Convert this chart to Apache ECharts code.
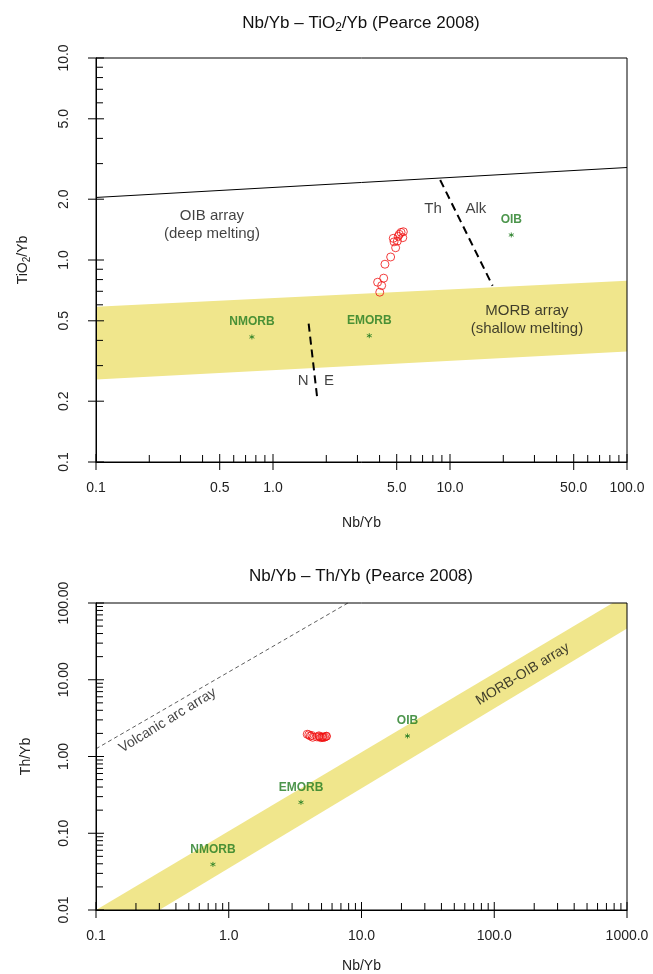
<!DOCTYPE html>
<html><head><meta charset="utf-8">
<script src="https://cdn.jsdelivr.net/npm/echarts@6/dist/echarts.min.js"></script>
<style>html,body{margin:0;padding:0;background:#fff}#c{width:653px;height:974px}</style>
</head><body><div id="c"></div>
<script>
// ---- sample data ----
const sampleNbYb   = [4.01,3.90,4.11,4.22,4.29,4.62,4.93,4.83,5.04,4.78,5.10,5.41,5.29,5.45,5.17];
const sampleTiO2Yb = [0.693,0.776,0.747,0.813,0.953,1.035,1.15,1.23,1.24,1.28,1.31,1.29,1.37,1.38,1.34];
const sampleThYb   = [1.92,1.95,1.85,1.88,1.78,1.80,1.76,1.82,1.78,1.86,1.80,1.83,1.79,1.84,1.77];
// ---- reference compositions ----
const refNames   = ['NMORB','EMORB','OIB'];
const refNbYb    = [0.76,3.50,22.2];
const refTiO2Yb  = [0.416,0.422,1.33];
const refThYb    = [0.0393,0.253,1.85];
// ---- field boundaries ----
const oibUpperLine = [[0.1,2.04],[100,2.87]];
const morbBandTi   = [[0.1,0.587],[100,0.79],[100,0.352],[0.1,0.256]];
const thAlkLine    = [[8.8,2.49],[17.4,0.746]];
const nELine       = [[1.59,0.484],[1.78,0.205]];
const morbOibBand  = [[0.1,0.01],[780,100],[1000,100],[1000,46.4],[0.3,0.01]];
const volcArcLine  = [[0.1,1.26],[7.9,100]];
// ---- annotation texts and anchors ----
const topNotes = ['OIB array\n(deep melting)','MORB array\n(shallow melting)','Th','Alk','N','E'];
const topNoteAt = [[0.452,1.50],[27.2,0.506],[8.02,1.80],[14.0,1.80],[1.48,0.251],[2.07,0.251]];
const botNotes = ['Volcanic arc array','MORB-OIB array'];
const botNoteAt = [[0.346,2.95],[163.7,11.8]];
// ---- ticks ----
const topXMajor = [0.1,0.5,1,5,10,50,100];
const topXMinor = [0.2,0.3,0.4,0.6,0.7,0.8,0.9,2,3,4,6,7,8,9,20,30,40,60,70,80,90];
const topYMajor = [0.1,0.2,0.5,1,2,5,10];
const topYMinor = [0.3,0.4,0.6,0.7,0.8,0.9,3,4,6,7,8,9];
const botXMajor = [0.1,1,10,100,1000];
const botXMinor = [0.2,0.3,0.4,0.5,0.6,0.7,0.8,0.9,2,3,4,5,6,7,8,9,20,30,40,50,60,70,80,90,200,300,400,500,600,700,800,900];
const botYMajor = [0.01,0.1,1,10,100];
const botYMinor = [0.02,0.03,0.04,0.05,0.06,0.07,0.08,0.09,0.2,0.3,0.4,0.5,0.6,0.7,0.8,0.9,2,3,4,5,6,7,8,9,20,30,40,50,60,70,80,90];

const FONT = '"Liberation Sans", Arial, sans-serif';
const YELLOW = '#F0E68C';
const GREEN = '#1f7a1f';
const RED = '#f01010';
const STAR = 'path://M0,-5L0,5M-4.33,-2.5L4.33,2.5M-4.33,2.5L4.33,-2.5';

function tickData(xMaj, xMin, yMaj, yMin, x0, y0){
  const d = [];
  xMaj.forEach(v=>d.push([v,y0,0,1]));
  xMin.forEach(v=>d.push([v,y0,0,0]));
  yMaj.forEach(v=>d.push([x0,v,1,1]));
  yMin.forEach(v=>d.push([x0,v,1,0]));
  return d;
}
function tickRender(params, api){
  const p = api.coord([api.value(0), api.value(1)]);
  const isY = api.value(2) === 1, major = api.value(3) === 1;
  const inL = major ? 8 : 7, outL = major ? 8 : 0;
  const shape = isY ? {x1:p[0]-outL,y1:p[1],x2:p[0]+inL,y2:p[1]}
                    : {x1:p[0],y1:p[1]+outL,x2:p[0],y2:p[1]-inL};
  return {type:'line', shape, style:{stroke:'#000', lineWidth:1}};
}
function bandRender(points){
  return function(params, api){
    if (params.dataIndex !== 0) return;
    return {type:'polygon', shape:{points: points.map(p=>api.coord(p))}, style:{fill: YELLOW}};
  };
}
function zip(a,b){ return a.map((v,i)=>[v,b[i]]); }

function logAxis(gi, min, max, pos, labels, fmt, name, nameGap, rot){
  return {
    type:'log', logBase:10, gridIndex:gi, min, max, position:pos, z:10,
    axisLine:{show:true, onZero:false, lineStyle:{color:'#000', width:1}},
    axisTick:{show:false}, splitLine:{show:false}, minorTick:{show:false},
    axisLabel:{customValues: labels, formatter: v=>Number(v).toFixed(fmt), color:'#222',
      fontFamily:FONT, fontSize:14, rotate: rot||0, margin: rot ? 25 : 19},
    name, nameLocation:'middle', nameGap, nameRotate: rot ? 90 : 0,
    nameTextStyle:{color:'#222', fontFamily:FONT, fontSize:14,
      rich:{sub:{fontSize:10, verticalAlign:'bottom', padding:[8,0,0,0], fontFamily:FONT, color:'#222'}}}
  };
}

const chart = echarts.init(document.getElementById('c'), null, {renderer:'canvas'});
const textLabel = (rot, size)=>({show:true, position:'inside', formatter: p=>p.name, color:'#111',
  fontFamily:FONT, fontSize:size, lineHeight:size+3, align:'center', verticalAlign:'middle', rotate: rot||0});
const refLabel = {show:true, position:'top', distance:4, formatter:p=>p.name, color:GREEN,
  fontFamily:FONT, fontSize:12, fontWeight:'bold'};

chart.setOption({
  animation:false,
  backgroundColor:'#fff',
  title:[
    {text:'Nb/Yb – TiO{sub|2}/Yb (Pearce 2008)', left:356, top:8, textAlign:'center',
     textStyle:{fontFamily:FONT, fontSize:17, fontWeight:'normal', color:'#111',
       rich:{sub:{fontSize:12, verticalAlign:'bottom', padding:[9,0,0,0], fontFamily:FONT, color:'#111'}}}},
    {text:'Nb/Yb – Th/Yb (Pearce 2008)', left:356, top:563, textAlign:'center',
     textStyle:{fontFamily:FONT, fontSize:17, fontWeight:'normal', color:'#111'}}
  ],
  grid:[
    {left:96, top:58, width:531, height:404, show:true, borderColor:'#000', borderWidth:1, backgroundColor:'transparent', z:10},
    {left:96, top:603, width:531, height:309, show:true, borderColor:'#000', borderWidth:1, backgroundColor:'transparent', z:10}
  ],
  xAxis:[
    logAxis(0, 0.1, 100, 'bottom', topXMajor, 1, 'Nb/Yb', 54),
    logAxis(1, 0.1, 1000, 'bottom', botXMajor, 1, 'Nb/Yb', 49)
  ],
  yAxis:[
    logAxis(0, 0.1, 10, 'left', topYMajor, 1, 'TiO{sub|2}/Yb', 64, 90),
    logAxis(1, 0.01, 100, 'left', botYMajor, 2, 'Th/Yb', 63, 90)
  ],
  series:[
    // ---------- top chart ----------
    {type:'custom', xAxisIndex:0, yAxisIndex:0, silent:true, z:1, renderItem: bandRender(morbBandTi), data: morbBandTi},
    {type:'line', xAxisIndex:0, yAxisIndex:0, silent:true, symbol:'none', data: oibUpperLine,
     lineStyle:{color:'#000', width:1}},
    {type:'line', xAxisIndex:0, yAxisIndex:0, silent:true, symbol:'none', data: thAlkLine,
     lineStyle:{color:'#000', width:2, type:[8,5]}},
    {type:'line', xAxisIndex:0, yAxisIndex:0, silent:true, symbol:'none', data: nELine,
     lineStyle:{color:'#000', width:2, type:[8,5]}},
    {type:'scatter', xAxisIndex:0, yAxisIndex:0, silent:true, symbol:'circle', symbolSize:8,
     itemStyle:{color:'rgba(0,0,0,0)', borderColor:RED, borderWidth:1}, data: zip(sampleNbYb, sampleTiO2Yb)},
    {type:'scatter', xAxisIndex:0, yAxisIndex:0, silent:true, symbol:STAR, symbolSize:5,
     itemStyle:{color:'none', borderColor:GREEN, borderWidth:1}, label: refLabel,
     data: refNames.map((n,i)=>({name:n, value:[refNbYb[i], refTiO2Yb[i]]}))},
    {type:'scatter', xAxisIndex:0, yAxisIndex:0, silent:true, symbolSize:1, itemStyle:{color:'rgba(0,0,0,0)'},
     label: textLabel(0, 15), data: topNotes.map((n,i)=>({name:n, value: topNoteAt[i]}))},
    {type:'custom', xAxisIndex:0, yAxisIndex:0, silent:true, clip:false, z:20, renderItem: tickRender,
     data: tickData(topXMajor, topXMinor, topYMajor, topYMinor, 0.1, 0.1)},
    // ---------- bottom chart ----------
    {type:'custom', xAxisIndex:1, yAxisIndex:1, silent:true, z:1, renderItem: bandRender(morbOibBand), data: morbOibBand},
    {type:'line', xAxisIndex:1, yAxisIndex:1, silent:true, symbol:'none', data: volcArcLine,
     lineStyle:{color:'#333', width:0.8, type:[4,3]}},
    {type:'scatter', xAxisIndex:1, yAxisIndex:1, silent:true, symbol:'circle', symbolSize:8,
     itemStyle:{color:'rgba(0,0,0,0)', borderColor:RED, borderWidth:1}, data: zip(sampleNbYb, sampleThYb)},
    {type:'scatter', xAxisIndex:1, yAxisIndex:1, silent:true, symbol:STAR, symbolSize:5,
     itemStyle:{color:'none', borderColor:GREEN, borderWidth:1}, label: refLabel,
     data: refNames.map((n,i)=>({name:n, value:[refNbYb[i], refThYb[i]]}))},
    {type:'scatter', xAxisIndex:1, yAxisIndex:1, silent:true, symbolSize:1, itemStyle:{color:'rgba(0,0,0,0)'},
     label: textLabel(31.5, 14), data: botNotes.map((n,i)=>({name:n, value: botNoteAt[i]}))},
    {type:'custom', xAxisIndex:1, yAxisIndex:1, silent:true, clip:false, z:20, renderItem: tickRender,
     data: tickData(botXMajor, botXMinor, botYMajor, botYMinor, 0.1, 0.01)}
  ]
});
</script></body></html>
